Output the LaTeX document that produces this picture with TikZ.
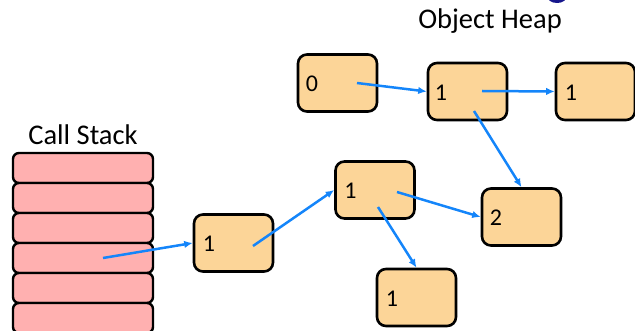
\documentclass[tikz,border=0pt]{standalone}
\usepackage{fontspec}
\setmainfont{Carlito}
\usetikzlibrary{arrows.meta}
\definecolor{objfill}{RGB}{252,213,152}
\definecolor{framefill}{RGB}{255,176,176}
\definecolor{refblue}{RGB}{20,133,250}
\definecolor{navy}{RGB}{22,22,140}
\tikzset{
  objbox/.style={draw=black, line width=2.6pt, fill=objfill, rounded corners=9pt,
    minimum width=79pt, minimum height=57pt, inner sep=0pt},
  frame/.style={draw=black, line width=2.4pt, fill=framefill, rounded corners=6pt,
    minimum width=140pt, minimum height=30pt, inner sep=0pt},
  ref/.style={draw=refblue, line width=2.5pt, -{Latex[length=8.5pt,width=7.5pt]}},
  count/.style={anchor=west, inner sep=0pt, font=\fontsize{24}{28}\selectfont},
  heading/.style={anchor=base, inner sep=0pt, font=\fontsize{28.5}{34}\selectfont},
}
\begin{document}
\begin{tikzpicture}[x=1pt, y=-1pt]
  \useasboundingbox (0,0) rectangle (635,331);
  \clip (0,0) rectangle (635,331);

  % bottom of a glyph from the title line above
  \fill[navy] (557,-4) ellipse [x radius=10, y radius=7];

  % headings
  \node[heading] (stacktitle) at (83,145) {Call Stack};
  \node[heading] (heaptitle) at (490,29) {Object Heap};

  % call stack frames
  \foreach \i in {0,...,5}
    \node[frame] (f\i) at (83,{168+30*\i}) {};

  % heap objects with their reference counts
  \node[objbox] (A) at (233.5,243) {};
  \node[objbox] (B) at (375,190) {};
  \node[objbox] (C) at (521.5,217) {};
  \node[objbox] (D) at (416.5,297.5) {};
  \node[objbox] (E) at (337.5,83) {};
  \node[objbox] (F) at (467.5,91.5) {};
  \node[objbox] (G) at (595.5,91.5) {};

  \node[count] (nA) at ([xshift=10pt,yshift=-1pt]A.west) {1};
  \node[count] (nB) at ([xshift=10pt,yshift=-1pt]B.west) {1};
  \node[count] (nC) at ([xshift=9pt,yshift=-1pt]C.west) {2};
  \node[count] (nD) at ([xshift=10pt,yshift=-1pt]D.west) {1};
  \node[count] (nE) at ([xshift=9pt,yshift=-1pt]E.west) {0};
  \node[count] (nF) at ([xshift=8pt,yshift=-1pt]F.west) {1};
  \node[count] (nG) at ([xshift=10pt,yshift=-1pt]G.west) {1};

  % reference start points
  \coordinate (sf) at (103,258);
  \coordinate (sA) at (253,246);
  \coordinate (sB1) at (397,192);
  \coordinate (sB2) at (378,207);
  \coordinate (sE) at (357,83);
  \coordinate (sF1) at (482,91);
  \coordinate (sF2) at (474,111);

  % references
  \draw[ref] (sf) -- (A.west);
  \draw[ref] (sA) -- (B.west);
  \draw[ref] (sB1) -- (C.west);
  \draw[ref] (sB2) -- (D.north);
  \draw[ref] (sE) -- (F.west);
  \draw[ref] (sF1) -- (G.west);
  \draw[ref] (sF2) -- (C.north);
\end{tikzpicture}
\end{document}
